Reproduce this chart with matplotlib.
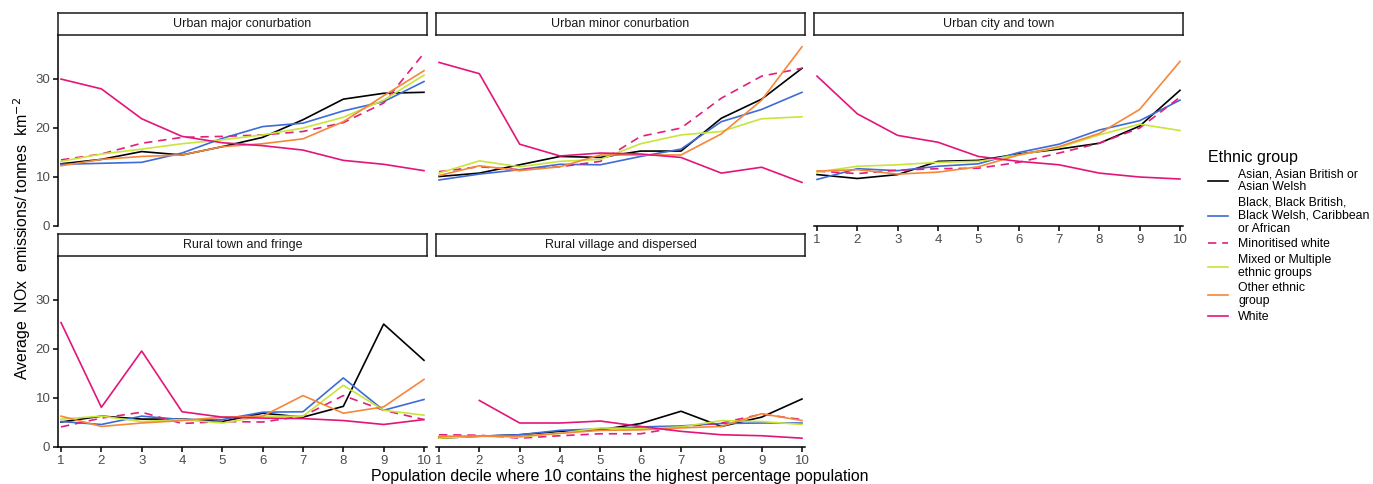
import numpy as np
from matplotlib import pyplot as plt, rcParams

rcParams["font.family"] = ["Liberation Sans", "DejaVu Sans"]

nan = np.nan
deciles = list(range(1, 11))
panels = [
    "Urban major conurbation",
    "Urban minor conurbation",
    "Urban city and town",
    "Rural town and fringe",
    "Rural village and dispersed",
]
groups = [
    "Asian, Asian British or\nAsian Welsh",
    "Black, Black British,\nBlack Welsh, Caribbean\nor African",
    "Minoritised white",
    "Mixed or Multiple\nethnic groups",
    "Other ethnic\ngroup",
    "White",
]

# one row per panel, one value per decile
asian_vals = [
    [12.6, 13.5, 15.1, 14.4, 16.1, 18.0, 21.6, 25.8, 27.0, 27.2],
    [10.0, 10.7, 12.4, 14.1, 13.9, 15.2, 15.2, 21.9, 25.8, 32.1],
    [10.4, 9.6, 10.4, 13.1, 13.3, 14.6, 15.6, 16.8, 20.3, 27.6],
    [5.0, 6.2, 5.6, 5.6, 5.1, 6.8, 6.0, 8.2, 25.0, 17.6],
    [1.7, 2.1, 2.4, 3.1, 3.4, 4.7, 7.2, 4.1, 6.0, 9.7],
]
black_vals = [
    [12.5, 12.7, 12.9, 14.8, 17.8, 20.2, 20.9, 23.4, 25.3, 29.4],
    [9.3, 10.5, 11.4, 12.5, 12.4, 14.1, 15.6, 21.2, 23.7, 27.2],
    [9.4, 11.6, 11.2, 12.1, 12.6, 14.9, 16.6, 19.5, 21.4, 25.6],
    [5.1, 4.5, 6.2, 5.5, 5.5, 7.0, 7.1, 14.0, 7.4, 9.6],
    [1.9, 2.1, 2.4, 3.3, 3.6, 4.0, 4.2, 4.7, 4.8, 4.8],
]
minor_white_vals = [
    [13.4, 14.6, 16.8, 18.0, 18.2, 18.5, 19.2, 21.0, 25.0, 35.2],
    [11.0, 12.0, 11.4, 12.0, 13.1, 18.2, 19.9, 26.0, 30.5, 32.1],
    [11.1, 10.6, 11.3, 11.6, 11.7, 12.9, 14.8, 16.8, 19.9, 26.2],
    [4.0, 5.8, 7.0, 4.7, 5.1, 5.0, 6.2, 10.4, 7.4, 5.5],
    [2.4, 2.3, 1.7, 2.2, 2.6, 2.6, 4.0, 4.8, 6.6, 5.5],
]
mixed_vals = [
    [13.1, 14.6, 15.6, 16.7, 17.5, 18.5, 19.9, 22.1, 25.6, 30.7],
    [10.7, 13.2, 12.0, 13.1, 13.5, 16.7, 18.5, 19.2, 21.8, 22.2],
    [10.9, 12.1, 12.4, 12.9, 13.1, 14.4, 15.9, 18.5, 20.7, 19.4],
    [5.6, 6.2, 5.1, 5.5, 4.8, 6.2, 6.2, 12.5, 7.4, 6.4],
    [1.7, 2.1, 1.9, 2.7, 3.8, 3.6, 4.0, 5.3, 5.1, 4.5],
]
other_vals = [
    [12.2, 13.5, 14.1, 14.4, 16.1, 16.7, 17.7, 21.2, 26.5, 31.6],
    [10.2, 12.2, 11.2, 12.0, 14.4, 14.4, 14.4, 18.7, 25.6, 36.5],
    [11.1, 11.4, 10.5, 10.9, 12.0, 14.4, 16.1, 18.8, 23.7, 33.5],
    [6.2, 4.1, 4.8, 5.3, 6.0, 6.2, 10.4, 6.8, 8.1, 13.7],
    [2.1, 2.1, 2.1, 2.7, 3.3, 3.4, 3.8, 4.1, 6.7, 5.3],
]
white_vals = [
    [29.9, 27.9, 21.8, 18.2, 16.9, 16.3, 15.4, 13.3, 12.5, 11.2],
    [33.3, 31.0, 16.6, 14.2, 14.8, 14.6, 13.9, 10.7, 11.9, 8.8],
    [30.5, 22.8, 18.4, 17.0, 14.1, 13.1, 12.4, 10.7, 9.9, 9.5],
    [25.3, 8.0, 19.5, 7.1, 6.0, 5.8, 5.7, 5.3, 4.5, 5.5],
    [nan, 9.4, 4.8, 4.8, 5.2, 4.1, 3.1, 2.4, 2.2, 1.7],
]

series = [asian_vals, black_vals, minor_white_vals, mixed_vals, other_vals, white_vals]
colors = ["#000000", "#3E6BD6", "#E0207A", "#C9E43A", "#F5873A", "#E3157A"]
styles = ["-", "-", (0, (5, 3.5)), "-", "-", "-"]

W, H = 1373, 484
fig = plt.figure(figsize=(W / 100, H / 100), dpi=100)

col_left = [58, 436, 814]
row_top = [35, 256]
pw, ph, sh = 369, 191, 22

tick_col = "#4D4D4D"
axs = []
for i, name in enumerate(panels):
    r, c = divmod(i, 3)
    x0, y0 = col_left[c], row_top[r]
    ax = fig.add_axes([x0 / W, 1 - (y0 + ph) / H, pw / W, ph / H])
    for vals, col, ls, lab in zip(series, colors, styles, groups):
        ax.plot(deciles, vals[i], color=col, ls=ls, lw=1.2, label=lab)
    ax.set_xlim(0.925, 10.075)
    ax.set_ylim(-0.1, 38.9)
    ax.set_xticks(deciles)
    ax.set_yticks([0, 10, 20, 30])
    for s in ["top", "right"]:
        ax.spines[s].set_visible(False)
    ax.spines["left"].set_linewidth(1.1)
    ax.spines["bottom"].set_linewidth(1.1)
    ax.tick_params(direction="out", length=3.5, width=1.1, labelsize=9.5,
                   labelcolor=tick_col, pad=2)
    if c != 0:
        ax.spines["left"].set_visible(False)
        ax.tick_params(axis="y", left=False, labelleft=False)
    if r == 0 and c != 2:
        ax.spines["bottom"].set_visible(False)
        ax.tick_params(axis="x", bottom=False, labelbottom=False)
    # facet strip
    sax = fig.add_axes([x0 / W, 1 - (y0) / H, pw / W, sh / H])
    sax.set_xticks([])
    sax.set_yticks([])
    for s in sax.spines.values():
        s.set_linewidth(1.1)
        s.set_color("#1A1A1A")
    sax.text(0.5, 0.5, name, ha="center", va="center", fontsize=9,
             color="#1A1A1A", transform=sax.transAxes)
    axs.append(ax)

fig.text(22 / W, 1 - 238 / H, "Average  NOx  emissions/ tonnes  km$^{-2}$",
         rotation=90, ha="center", va="center", fontsize=11.4)
fig.text(620 / W, 1 - 476 / H,
         "Population decile where 10 contains the highest percentage population",
         ha="center", va="center", fontsize=11.4)

handles, labels = axs[0].get_legend_handles_labels()
leg = fig.legend(handles, labels, loc="upper left",
                 bbox_to_anchor=(1199 / W, 1 - 141 / H), frameon=False,
                 title="Ethnic group", title_fontsize=11.5, fontsize=8.8,
                 handlelength=1.7, handletextpad=0.8, labelspacing=0.3,
                 alignment="left", borderaxespad=0.3)
for t in leg.get_texts():
    t.set_linespacing(1.1)

fig.savefig("out.png", dpi=100)
